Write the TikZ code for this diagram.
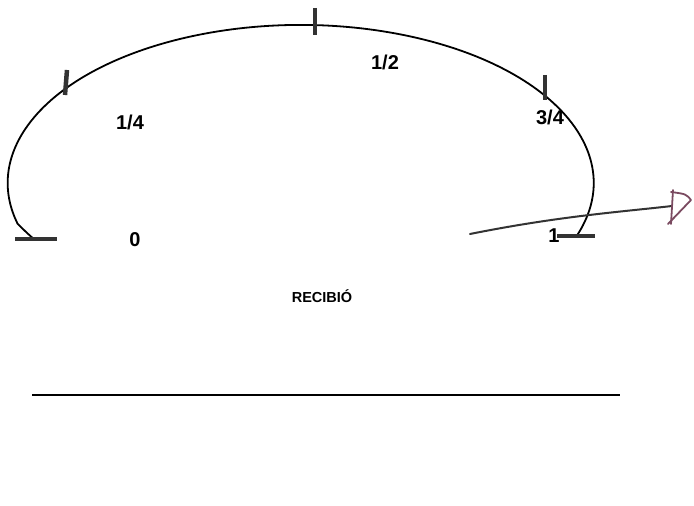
\documentclass[tikz,border=0pt]{standalone}
\usepackage{fontspec}
\newfontfamily\gaugefont{Liberation Sans}
\usepackage{xcolor}
\usetikzlibrary{positioning}
\definecolor{inkgray}{HTML}{333333}
\definecolor{penmark}{HTML}{7A4A60}

\begin{document}
\begin{tikzpicture}[x=1pt, y=1pt, every node/.style={font=\gaugefont\bfseries\fontsize{20}{20}\selectfont}]
    \useasboundingbox (0,0) rectangle (694,506);
    \tikzset{tickmark/.style={line width=4.5pt, inkgray}, gauge/.style={line width=1.8pt, black}}
    % arc of the gauge
    \draw[gauge] (576,269) arc[start angle=-20, end angle=195, x radius=293, y radius=158]
        .. controls (25,275) and (30,270) .. (34,267);
    % ticks
    \draw[tickmark] (315,498) -- (315,471);
    \draw[tickmark] (67,436) -- (65,411);
    \draw[tickmark] (545,431) -- (545,406);
    \draw[tickmark] (15,267) -- (57,267);
    \draw[tickmark] (557,270) -- (595,270);
    % labels
    \node (zero) at (135,266) {0};
    \node (quarter) at (130,384) {1/4};
    \node (half) at (385,444) {1/2};
    \node (threeq) at (550,389) {3/4};
    \node (one) at (554,270) {1};
    \node[font=\gaugefont\bfseries\fontsize{14.5}{14.5}\selectfont] (recibio) at (322,210) {RECIBIÓ};
    % line for signature
    \draw[line width=1.8pt] (32,111) -- (620,111);
    % pen mark
    \coordinate (penstart) at (470,272);
    \coordinate (penend) at (672,300);
    \draw[inkgray, line width=2pt, line cap=round] (penstart) .. controls (560,290) and (620,294) .. (penend);
    \draw[penmark, line width=1.8pt, line cap=round] (673,316) -- (671,282);
    \draw[penmark, line width=1.8pt, line cap=round, line join=round] (671,314) .. controls (686,312) .. (691,306) -- (668,282);
\end{tikzpicture}
\end{document}
